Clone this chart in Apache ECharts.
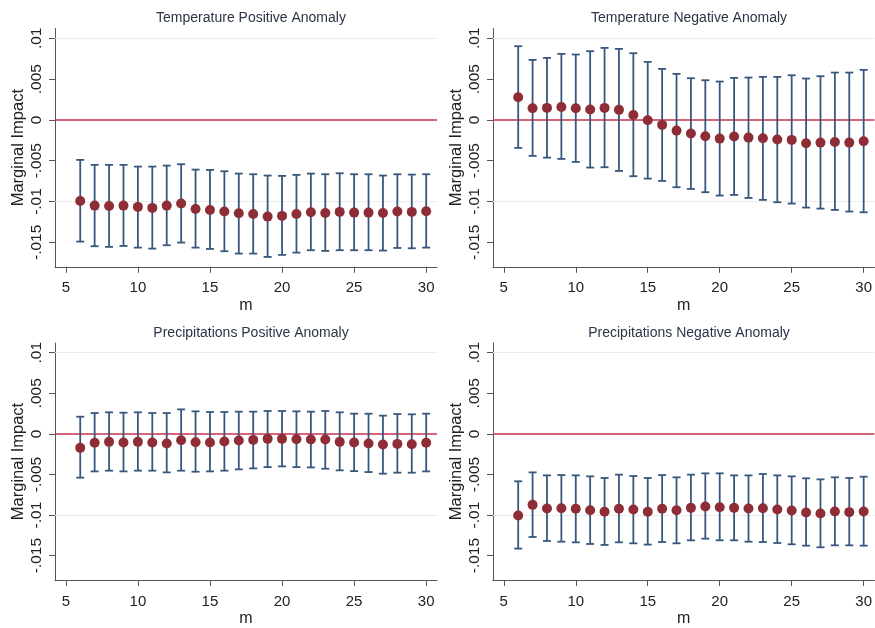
<!DOCTYPE html>
<html>
<head>
<meta charset="utf-8">
<title>Marginal Impact by horizon</title>
<script src="https://cdn.jsdelivr.net/npm/echarts@6.0.0/dist/echarts.min.js"></script>
<style>
  html, body { margin: 0; padding: 0; background: #fff; }
  #chart { width: 875px; height: 628px; }
</style>
</head>
<body>
<div id="chart"></div>
<script>
// horizon m
const mValues = [6, 7, 8, 9, 10, 11, 12, 13, 14, 15, 16, 17, 18, 19, 20, 21, 22, 23, 24, 25, 26, 27, 28, 29, 30]

// axis ticks
const xTickValues = [5, 10, 15, 20, 25, 30]
const yTickValues = [-0.015, -0.01, -0.005, 0, 0.005, 0.01]
const yTickLabels = ['-.015', '-.01', '-.005', '0', '.005', '.01']

const panelTitles = [
  'Temperature Positive Anomaly',
  'Temperature Negative Anomaly',
  'Precipitations Positive Anomaly',
  'Precipitations Negative Anomaly'
]

// Temperature positive anomaly: estimate, upper and lower bound
const tempPosEst = [-0.00993, -0.01050, -0.01054, -0.01050, -0.01066, -0.01078, -0.01050, -0.01025, -0.01091, -0.01103, -0.01123, -0.01144, -0.01152, -0.01185, -0.01176, -0.01152, -0.01132, -0.01140, -0.01127, -0.01136, -0.01136, -0.01140, -0.01123, -0.01127, -0.01119]
const tempPosHi = [-0.00490, -0.00551, -0.00551, -0.00551, -0.00572, -0.00572, -0.00560, -0.00543, -0.00609, -0.00613, -0.00629, -0.00658, -0.00666, -0.00682, -0.00686, -0.00674, -0.00658, -0.00666, -0.00654, -0.00666, -0.00666, -0.00682, -0.00666, -0.00670, -0.00666]
const tempPosLo = [-0.01491, -0.01548, -0.01556, -0.01544, -0.01565, -0.01577, -0.01536, -0.01503, -0.01565, -0.01581, -0.01609, -0.01638, -0.01638, -0.01679, -0.01654, -0.01626, -0.01597, -0.01605, -0.01597, -0.01597, -0.01597, -0.01601, -0.01569, -0.01573, -0.01565]

// Temperature negative anomaly
const tempNegEst = [0.00278, 0.00143, 0.00147, 0.00159, 0.00143, 0.00127, 0.00147, 0.00123, 0.00061, -0.00004, -0.00061, -0.00131, -0.00167, -0.00200, -0.00229, -0.00204, -0.00217, -0.00225, -0.00241, -0.00245, -0.00286, -0.00278, -0.00270, -0.00278, -0.00261]
const tempNegHi = [0.00903, 0.00735, 0.00760, 0.00809, 0.00801, 0.00842, 0.00882, 0.00870, 0.00817, 0.00711, 0.00625, 0.00564, 0.00511, 0.00486, 0.00470, 0.00515, 0.00519, 0.00527, 0.00527, 0.00547, 0.00507, 0.00535, 0.00580, 0.00580, 0.00613]
const tempNegLo = [-0.00343, -0.00441, -0.00462, -0.00478, -0.00515, -0.00584, -0.00580, -0.00625, -0.00690, -0.00719, -0.00748, -0.00825, -0.00846, -0.00886, -0.00927, -0.00919, -0.00956, -0.00980, -0.01009, -0.01025, -0.01074, -0.01087, -0.01103, -0.01123, -0.01132]

// Precipitations positive anomaly
const precPosEst = [-0.00172, -0.00110, -0.00098, -0.00106, -0.00098, -0.00106, -0.00118, -0.00078, -0.00102, -0.00106, -0.00094, -0.00082, -0.00074, -0.00061, -0.00061, -0.00065, -0.00069, -0.00069, -0.00098, -0.00106, -0.00118, -0.00131, -0.00123, -0.00127, -0.00110]
const precPosHi = [0.00212, 0.00257, 0.00266, 0.00261, 0.00266, 0.00257, 0.00257, 0.00302, 0.00278, 0.00270, 0.00270, 0.00274, 0.00274, 0.00282, 0.00282, 0.00278, 0.00274, 0.00282, 0.00266, 0.00249, 0.00249, 0.00225, 0.00245, 0.00241, 0.00249]
const precPosLo = [-0.00539, -0.00462, -0.00453, -0.00462, -0.00453, -0.00453, -0.00474, -0.00453, -0.00466, -0.00462, -0.00453, -0.00437, -0.00425, -0.00409, -0.00400, -0.00409, -0.00413, -0.00429, -0.00449, -0.00458, -0.00470, -0.00490, -0.00478, -0.00478, -0.00462]

// Precipitations negative anomaly
const precNegEst = [-0.01005, -0.00874, -0.00919, -0.00915, -0.00923, -0.00940, -0.00960, -0.00923, -0.00931, -0.00960, -0.00923, -0.00940, -0.00911, -0.00895, -0.00903, -0.00911, -0.00919, -0.00915, -0.00931, -0.00944, -0.00968, -0.00980, -0.00956, -0.00964, -0.00956]
const precNegHi = [-0.00584, -0.00474, -0.00511, -0.00507, -0.00511, -0.00523, -0.00543, -0.00502, -0.00519, -0.00543, -0.00507, -0.00535, -0.00502, -0.00486, -0.00486, -0.00511, -0.00511, -0.00494, -0.00511, -0.00523, -0.00547, -0.00560, -0.00535, -0.00543, -0.00527]
const precNegLo = [-0.01413, -0.01270, -0.01319, -0.01328, -0.01336, -0.01356, -0.01368, -0.01336, -0.01348, -0.01364, -0.01332, -0.01348, -0.01311, -0.01291, -0.01311, -0.01311, -0.01328, -0.01332, -0.01344, -0.01360, -0.01377, -0.01397, -0.01373, -0.01373, -0.01377]

const panelData = [
  { est: tempPosEst, hi: tempPosHi, lo: tempPosLo },
  { est: tempNegEst, hi: tempNegHi, lo: tempNegLo },
  { est: precPosEst, hi: precPosHi, lo: precPosLo },
  { est: precNegEst, hi: precNegHi, lo: precNegLo }
]

// 패널 위치
const panelPos = [
  { left: 55, top: 28.5 },
  { left: 493, top: 28.5 },
  { left: 55, top: 343 },
  { left: 493, top: 343 }
]
const gridW = 382
const gridH = 238.3

const fontFamily = '"Liberation Sans", Arial, sans-serif'
const barColor = '#37587c'
const dotColor = '#8e2d36'
const zeroColor = '#c8324c'
const axisColor = '#555555'

const chart = echarts.init(document.getElementById('chart'), null, { renderer: 'canvas' })

const renderErrorBar = (params, api) => {
  const x = api.value(0)
  const lo = api.coord([x, api.value(1)])
  const hi = api.coord([x, api.value(2)])
  const half = 4
  const style = { stroke: barColor, lineWidth: 1.8 }
  return {
    type: 'group',
    children: [
      { type: 'line', shape: { x1: hi[0], y1: hi[1], x2: lo[0], y2: lo[1] }, style },
      { type: 'line', shape: { x1: hi[0] - half, y1: hi[1], x2: hi[0] + half, y2: hi[1] }, style },
      { type: 'line', shape: { x1: lo[0] - half, y1: lo[1], x2: lo[0] + half, y2: lo[1] }, style }
    ]
  }
}

const titles = panelTitles.map((t, i) => ({
  text: t,
  left: panelPos[i].left + gridW / 2,
  top: panelPos[i].top - 22,
  textAlign: 'center',
  textStyle: { fontFamily, fontSize: 14, fontWeight: 'normal', color: '#2b3547' }
}))

const grids = panelPos.map(p => ({ left: p.left, top: p.top, width: gridW, height: gridH }))

const xAxes = panelPos.map((p, i) => ({
  type: 'value',
  gridIndex: i,
  min: 4.25,
  max: 30.75,
  name: 'm',
  nameLocation: 'middle',
  nameGap: 31,
  nameTextStyle: { fontFamily, fontSize: 16, color: '#222' },
  axisLine: { show: true, onZero: false, lineStyle: { color: axisColor, width: 1 } },
  axisTick: { show: true, length: 6, inside: false, customValues: xTickValues, lineStyle: { color: axisColor } },
  axisLabel: { customValues: xTickValues, fontFamily, fontSize: 15, color: '#222', margin: 14 },
  splitLine: { show: false }
}))

const yAxes = panelPos.map((p, i) => ({
  type: 'value',
  gridIndex: i,
  min: -0.018,
  max: 0.0112,
  name: 'Marginal Impact',
  nameLocation: 'middle',
  nameGap: 28,
  nameTextStyle: { fontFamily, fontSize: 16.5, color: '#222' },
  axisLine: { show: true, onZero: false, lineStyle: { color: axisColor, width: 1 } },
  axisTick: { show: true, length: 6, customValues: yTickValues, lineStyle: { color: axisColor } },
  axisLabel: {
    customValues: yTickValues,
    rotate: 90,
    fontFamily,
    fontSize: 15.5,
    color: '#222',
    margin: 10,
    formatter: v => {
      const idx = yTickValues.findIndex(t => Math.abs(t - v) < 1e-9)
      return idx >= 0 ? yTickLabels[idx] : ''
    }
  },
  splitLine: { show: false }
}))

const series = []
panelData.forEach((d, i) => {
  // 격자선 + 0 기준선
  series.push({
    type: 'line',
    xAxisIndex: i,
    yAxisIndex: i,
    data: [],
    silent: true,
    z: 1,
    markLine: {
      z: 1,
      silent: true,
      symbol: 'none',
      label: { show: false },
      animation: false,
      data: yTickValues.map(v => ({
        yAxis: v,
        lineStyle: v === 0
          ? { color: zeroColor, width: 1.5, type: 'solid' }
          : { color: '#ececec', width: 1, type: 'solid' }
      }))
    }
  })
  series.push({
    type: 'custom',
    xAxisIndex: i,
    yAxisIndex: i,
    z: 3,
    renderItem: renderErrorBar,
    encode: { x: 0, y: [1, 2] },
    data: mValues.map((m, k) => [m, d.lo[k], d.hi[k]])
  })
  series.push({
    type: 'scatter',
    xAxisIndex: i,
    yAxisIndex: i,
    z: 4,
    symbolSize: 10,
    itemStyle: { color: dotColor, opacity: 1 },
    data: mValues.map((m, k) => [m, d.est[k]])
  })
})

chart.setOption({
  animation: false,
  backgroundColor: '#ffffff',
  title: titles,
  grid: grids,
  xAxis: xAxes,
  yAxis: yAxes,
  series
})
</script>
</body>
</html>
